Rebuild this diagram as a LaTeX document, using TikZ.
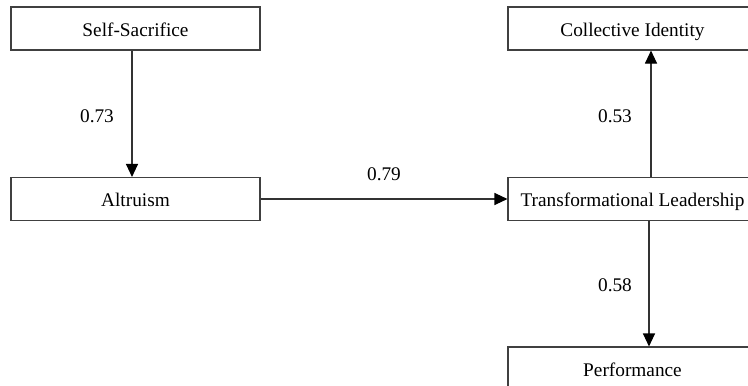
\documentclass[tikz,border=0pt]{standalone}
\usepackage{fontspec}
\setmainfont{Liberation Serif}
\usetikzlibrary{arrows.meta}
\begin{document}
\begin{tikzpicture}[x=1pt, y=-1pt, >={Triangle[length=13pt,width=12pt,color=black]},
  line width=1.1pt, draw=black!80,
  varbox/.style={draw=black!75, minimum width=249pt, minimum height=43pt, inner sep=0pt, text height=15pt, text depth=0pt, font=\fontsize{19.3}{23}\selectfont},
  coef/.style={inner sep=0pt, font=\fontsize{19.3}{23}\selectfont}]
\useasboundingbox (0,0) rectangle (748,386);
\node[varbox] (sac) at (135.5,28.5) {Self-Sacrifice};
\node[varbox] (alt) at (135.5,199) {Altruism};
\node[varbox] (ci) at (632.5,28.5) {Collective Identity};
\node[varbox] (tl) at (632.5,199) {Transformational Leadership};
\node[varbox] (perf) at (632.5,368.5) {Performance};
\node[coef] (c73) at (97,116) {0.73};
\node[coef] (c79) at (384,174) {0.79};
\node[coef] (c53) at (615,116) {0.53};
\node[coef] (c58) at (615,285) {0.58};
\draw[->] ([xshift=-3.5pt]sac.south) -- ([xshift=-3.5pt]alt.north);
\draw[->] (alt.east) -- (tl.west);
\draw[->] ([xshift=18.5pt]tl.north) -- ([xshift=18.5pt]ci.south);
\draw[->] ([xshift=16.5pt]tl.south) -- ([xshift=16.5pt]perf.north);
\end{tikzpicture}
\end{document}
